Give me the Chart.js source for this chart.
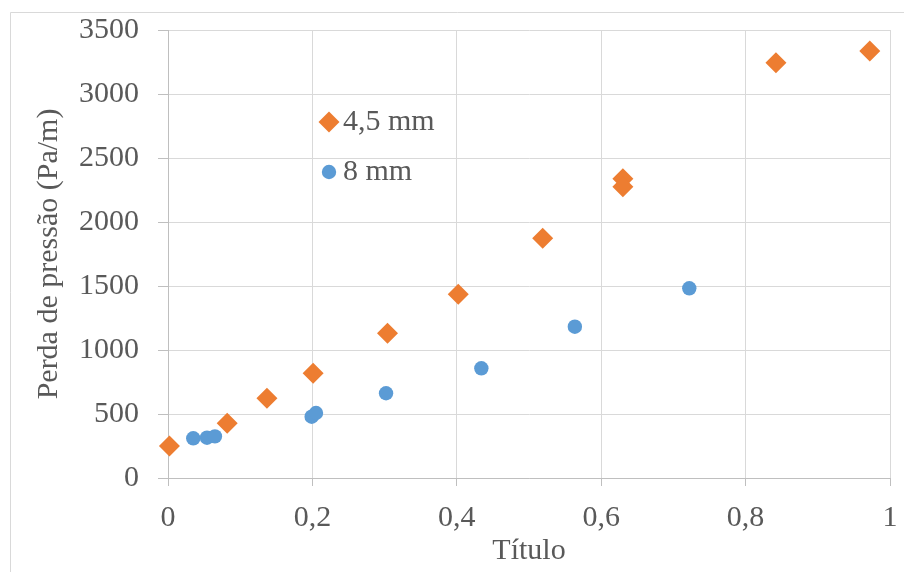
<!DOCTYPE html>
<html>
<head>
<meta charset="utf-8">
<script src="https://cdn.jsdelivr.net/npm/chart.js@4/dist/chart.umd.min.js"></script>
<style>
  html, body { margin: 0; padding: 0; background: #fff; }
  #grafico { display: block; }
</style>
</head>
<body>
<canvas id="grafico" width="904" height="572"></canvas>
<script>
// Perda de pressão em função do título, dois diâmetros de tubo
const titulo45 = [0.002, 0.082, 0.137, 0.201, 0.304, 0.402, 0.519, 0.630, 0.630, 0.842, 0.972];
const perda45  = [250, 427, 623, 818, 1130, 1435, 1873, 2338, 2276, 3245, 3335];
const titulo8  = [0.035, 0.054, 0.065, 0.199, 0.205, 0.302, 0.434, 0.5635, 0.722];
const perda8   = [310, 315, 325, 479, 508, 662, 857, 1182, 1482];

const rotulosX = ['0', '0,2', '0,4', '0,6', '0,8', '1'];
const rotulosY = ['0', '500', '1000', '1500', '2000', '2500', '3000', '3500'];
const nomesSeries = ['4,5 mm', '8 mm'];

const fonte = '"Liberation Serif", "Times New Roman", serif';
const corTexto = '#595959';
const laranja = '#ED7D31';
const azul = '#5B9BD5';

function pares(xs, ys) {
  return xs.map((x, i) => ({ x: x, y: ys[i] }));
}

// moldura externa do gráfico (cortada à direita e embaixo)
const moldura = {
  id: 'moldura',
  beforeDraw(chart) {
    const ctx = chart.ctx;
    ctx.save();
    ctx.fillStyle = '#fff';
    ctx.fillRect(0, 0, chart.width, chart.height);
    ctx.strokeStyle = '#d9d9d9';
    ctx.lineWidth = 1;
    ctx.beginPath();
    ctx.moveTo(10.5, chart.height);
    ctx.lineTo(10.5, 12.5);
    ctx.lineTo(chart.width, 12.5);
    ctx.stroke();
    ctx.restore();
  }
};

// legenda dentro da área do gráfico
const legendaInterna = {
  id: 'legendaInterna',
  afterDatasetsDraw(chart) {
    const ctx = chart.ctx;
    const area = chart.chartArea;
    ctx.save();
    chart.data.datasets.forEach((ds, i) => {
      const x = area.left + 161;
      const y = area.top + 92 + i * 50;
      ctx.fillStyle = ds.backgroundColor;
      ctx.strokeStyle = ds.borderColor;
      Chart.helpers.drawPoint(ctx, {
        pointStyle: ds.pointStyle,
        radius: ds.pointRadius,
        rotation: 0,
        borderWidth: 0
      }, x, y);
      ctx.fillStyle = corTexto;
      ctx.font = '30px ' + fonte;
      ctx.textBaseline = 'middle';
      ctx.textAlign = 'left';
      ctx.fillText(ds.label, x + 14, y);
    });
    ctx.restore();
  }
};

new Chart(document.getElementById('grafico'), {
  type: 'scatter',
  data: {
    datasets: [
      {
        label: nomesSeries[0],
        data: pares(titulo45, perda45),
        pointStyle: 'rectRot',
        pointRadius: 10.5,
        pointHoverRadius: 10.5,
        backgroundColor: laranja,
        borderColor: laranja,
        borderWidth: 0
      },
      {
        label: nomesSeries[1],
        data: pares(titulo8, perda8),
        pointStyle: 'circle',
        pointRadius: 7.2,
        pointHoverRadius: 7.2,
        backgroundColor: azul,
        borderColor: azul,
        borderWidth: 0
      }
    ]
  },
  options: {
    responsive: false,
    devicePixelRatio: 1,
    animation: false,
    clip: false,
    layout: { autoPadding: false, padding: { top: 30, right: 14, left: 0, bottom: 0 } },
    plugins: {
      legend: { display: false },
      tooltip: { enabled: false }
    },
    scales: {
      x: {
        type: 'linear',
        min: 0,
        max: 1,
        afterFit(scale) {
          scale.height = 94;
          scale.paddingLeft = 0;
          scale.paddingRight = 0;
        },
        ticks: {
          stepSize: 0.2,
          padding: 14,
          color: corTexto,
          font: { family: fonte, size: 30 },
          maxRotation: 0,
          callback: (v, i) => rotulosX[i]
        },
        grid: { color: '#d9d9d9', tickColor: '#bfbfbf', tickLength: 8 },
        border: { color: '#bfbfbf' },
        title: {
          display: true,
          text: 'Título',
          color: corTexto,
          font: { family: fonte, size: 30 },
          padding: { top: 0, bottom: 3 }
        }
      },
      y: {
        min: 0,
        max: 3500,
        afterFit(scale) {
          scale.width = 168;
          scale.paddingTop = 0;
          scale.paddingBottom = 0;
        },
        ticks: {
          stepSize: 500,
          padding: 19,
          color: corTexto,
          font: { family: fonte, size: 30 },
          callback: (v, i) => rotulosY[i]
        },
        grid: { color: '#d9d9d9', tickColor: '#bfbfbf', tickLength: 10 },
        border: { color: '#bfbfbf' },
        title: {
          display: true,
          text: 'Perda de pressão (Pa/m)',
          color: corTexto,
          font: { family: fonte, size: 30 },
          padding: { top: 31, bottom: 0 }
        }
      }
    }
  },
  plugins: [moldura, legendaInterna]
});
</script>
</body>
</html>
